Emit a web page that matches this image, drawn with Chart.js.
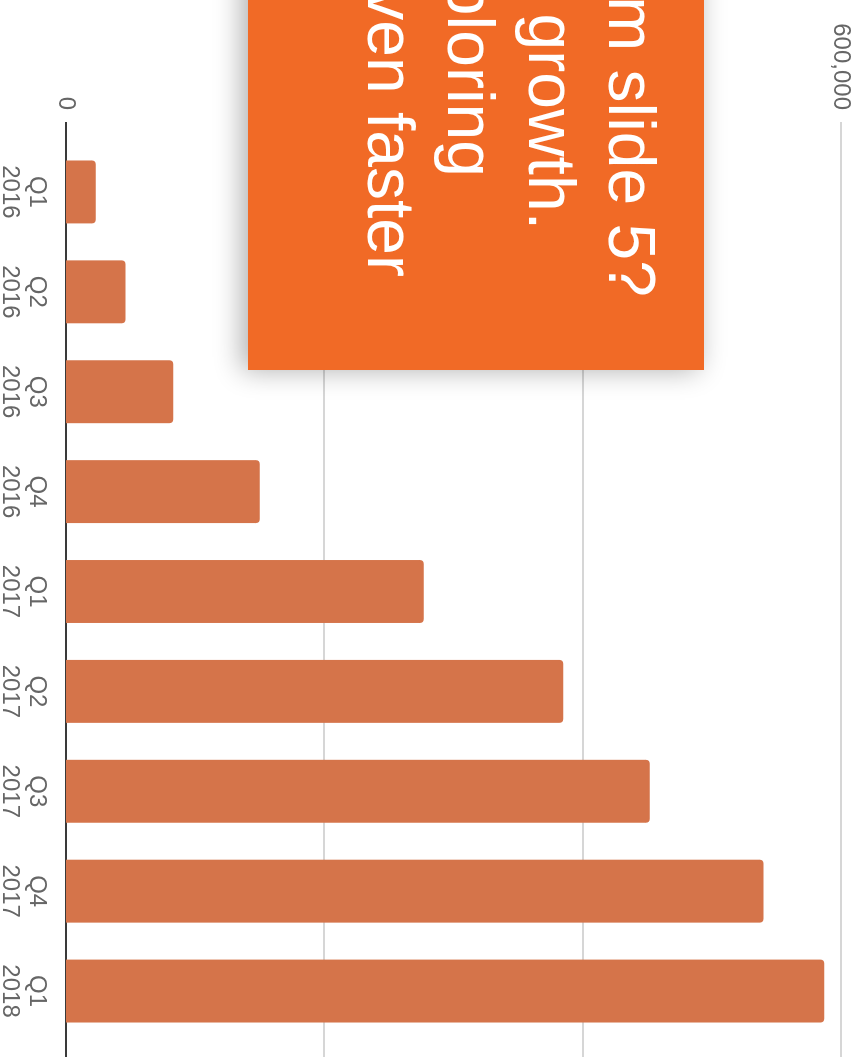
<!DOCTYPE html>
<html>
<head>
<meta charset="utf-8">
<script src="https://cdn.jsdelivr.net/npm/chart.js@4/dist/chart.umd.min.js"></script>
<style>
  html, body { margin: 0; padding: 0; background: #fff; overflow: hidden; }
  body { width: 864px; height: 1062px; position: relative; }
  /* the chart is laid out upright and then turned a quarter clockwise */
  #turn {
    position: absolute; left: 0; top: 0;
    width: 1062px; height: 864px;
    transform-origin: 0 0;
    transform: translateX(864px) rotate(90deg);
    overflow: hidden;
  }
  #chart { position: absolute; left: 0; top: 0; }
  #note {
    position: absolute; left: -110px; top: 160px;
    width: 480px; height: 456px;
    background: #f16a26;
    box-shadow: 0 6px 26px rgba(0, 0, 0, 0.32);
    overflow: hidden;
    font-family: "Liberation Sans", Arial, Helvetica, sans-serif;
    font-size: 66px; line-height: 80px; color: #fff;
  }
  #note div { position: absolute; white-space: nowrap; }
</style>
</head>
<body>
<div id="turn">
  <canvas id="chart" width="1062" height="864"></canvas>
  <div id="note">
    <div style="top:32px; right:73px;">m slide 5?</div>
    <div style="top:112px; right:140px;">growth.</div>
    <div style="top:193px; right:193px;">ploring</div>
    <div style="top:273px; right:93px;">ven faster</div>
  </div>
</div>

<script>
const quarters = [
  ["Q1", "2016"], ["Q2", "2016"], ["Q3", "2016"], ["Q4", "2016"],
  ["Q1", "2017"], ["Q2", "2017"], ["Q3", "2017"], ["Q4", "2017"],
  ["Q1", "2018"]
];
const values = [23000, 46000, 83000, 150000, 277000, 385000, 452000, 540000, 587000];
const valueTicks = [0, 200000, 400000, 600000];

const barColor = "#d5744a";
const gridColor = "#d6d6d6";
const axisColor = "#3a3a3a";
const labelColor = "#666666";

Chart.defaults.font.family = '"Liberation Sans", Arial, Helvetica, sans-serif';

// grid + base line run a bit past the plot area, as in the original
const wideGrid = {
  id: "wideGrid",
  beforeDatasetsDraw(chart) {
    const { ctx, chartArea, scales } = chart;
    const x0 = chartArea.left - 20, x1 = chartArea.right + 16;
    ctx.save();
    ctx.lineWidth = 2;
    valueTicks.forEach(v => {
      const y = Math.round(scales.y.getPixelForValue(v));
      ctx.strokeStyle = v === 0 ? axisColor : gridColor;
      ctx.beginPath();
      ctx.moveTo(x0, y);
      ctx.lineTo(x1, y);
      ctx.stroke();
    });
    ctx.restore();
  }
};

new Chart(document.getElementById("chart"), {
  type: "bar",
  data: {
    labels: quarters,
    datasets: [{
      data: values,
      backgroundColor: barColor,
      borderRadius: 4,
      barPercentage: 0.63,
      categoryPercentage: 1.0
    }]
  },
  options: {
    responsive: false,
    animation: false,
    devicePixelRatio: 1,
    layout: { padding: { top: 23, right: 21, bottom: 0, left: 0 } },
    plugins: { legend: { display: false }, tooltip: { enabled: false } },
    scales: {
      x: {
        grid: { display: false, drawTicks: false },
        border: { display: false },
        ticks: { color: labelColor, font: { size: 24, lineHeight: 1.12 }, padding: 16, maxRotation: 0 },
        afterFit: s => { s.height = 66; s.paddingLeft = 0; s.paddingRight = 0; }
      },
      y: {
        min: 0,
        max: 600000,
        grid: { display: false, drawTicks: false },
        border: { display: false },
        afterBuildTicks: s => { s.ticks = valueTicks.map(v => ({ value: v })); },
        ticks: {
          color: labelColor,
          font: { size: 24 },
          padding: 32,
          callback: v => v.toLocaleString("en-US")
        },
        afterFit: s => { s.width = 142; s.paddingTop = 0; s.paddingBottom = 0; }
      }
    }
  },
  plugins: [wideGrid]
});
</script>
</body>
</html>
